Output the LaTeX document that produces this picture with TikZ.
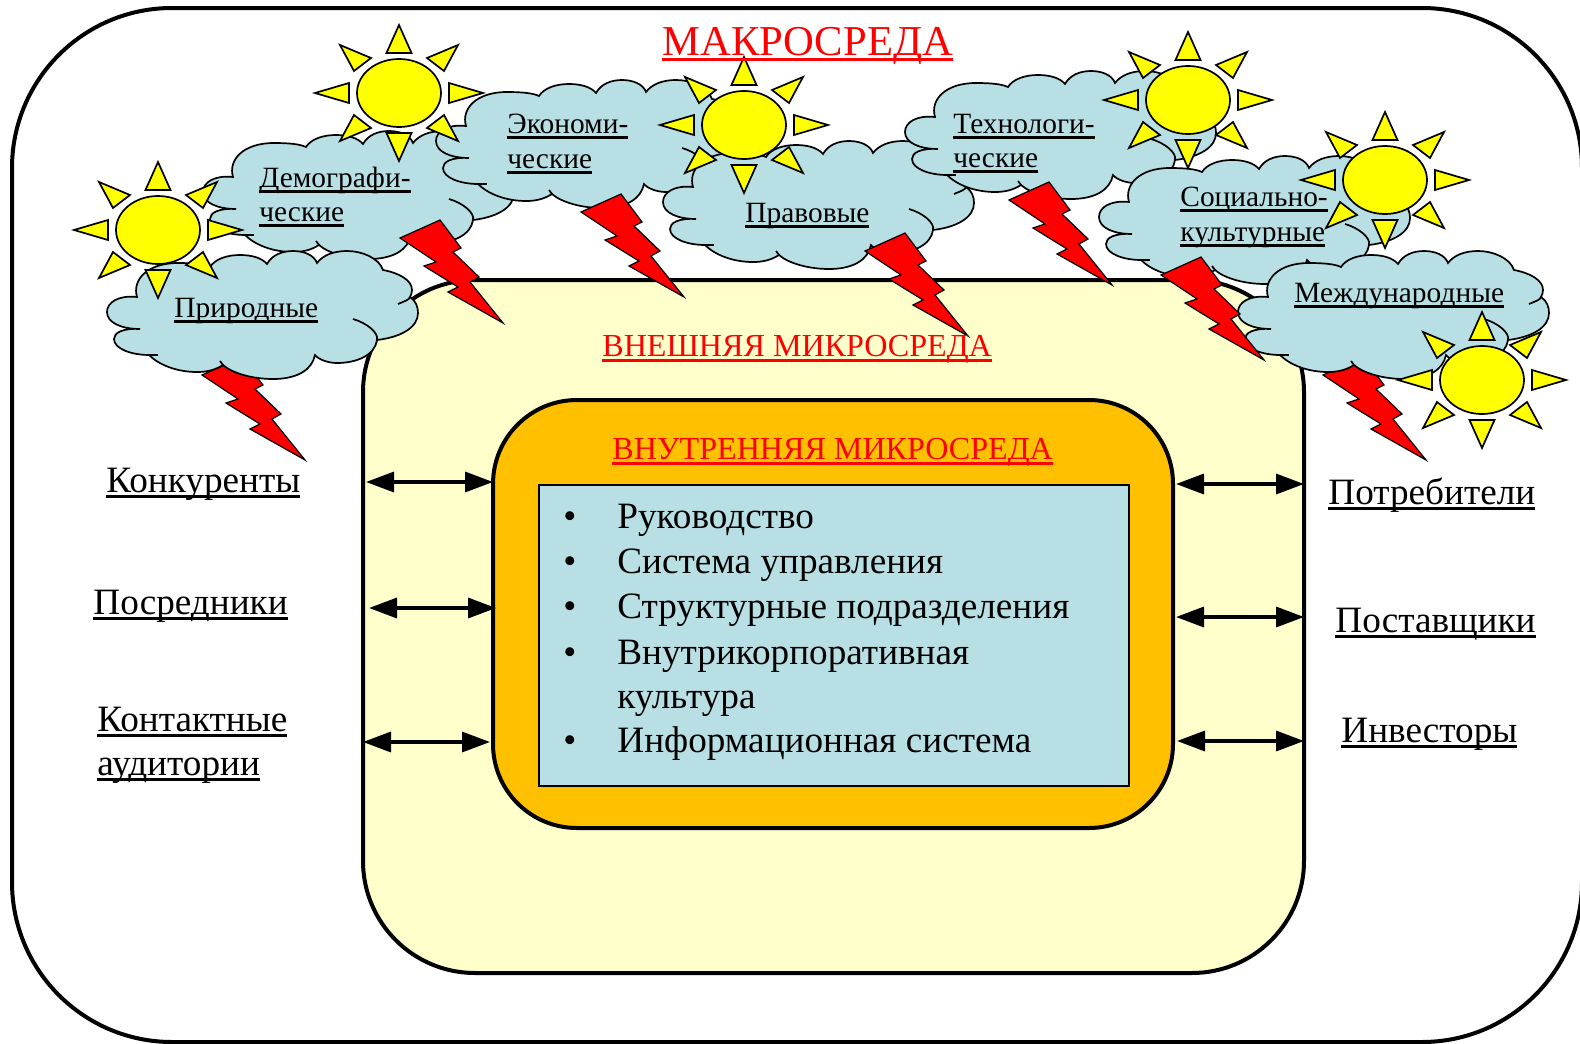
\documentclass[tikz,border=0pt]{standalone}
\usepackage{fontspec}
\usetikzlibrary{arrows.meta}
\setmainfont{Liberation Serif}
\newcommand{\uline}[1]{\setbox0\hbox{#1}\rlap{\rule[-3pt]{\wd0}{1.3pt}}\box0}
\definecolor{skyfill}{RGB}{184,223,228}
\definecolor{palefill}{RGB}{255,255,204}
\definecolor{orangefill}{RGB}{255,192,0}
\definecolor{sunfill}{RGB}{255,255,0}
\definecolor{boltfill}{RGB}{255,0,0}
\tikzset{
  frameline/.style={draw=black, line width=2pt},
  cloudline/.style={draw=black, line width=0.85pt},
  rayline/.style={draw=black, fill=sunfill, line width=0.85pt, line join=miter},
  boltline/.style={draw=black, fill=boltfill, line width=0.6pt, line join=miter},
  twoway/.style={line width=1.7pt, {Triangle[length=14pt,width=10pt]}-{Triangle[length=14pt,width=10pt]}},
  bigtext/.style={anchor=base west, inner sep=0pt, font=\fontsize{18.6}{20}\selectfont},
  smalltext/.style={anchor=base west, inner sep=0pt, font=\fontsize{14.7}{16}\selectfont},
  redtext/.style={anchor=base west, inner sep=0pt, boltfill, font=\fontsize{16.05}{18}\selectfont},
  pics/cloudpic/.style={code={
    \path[cloudline, fill=skyfill] (30,42)
      .. controls (25,25) and (40,8) .. (71,8)
      .. controls (85,8) and (97,9) .. (103,12)
      .. controls (108,4) and (120,0) .. (133,0)
      .. controls (145,0) and (155,3) .. (160,9)
      .. controls (165,0) and (175,-4) .. (186,-4)
      .. controls (197,-4) and (207,0) .. (210,8)
      .. controls (216,0) and (227,-4) .. (240,-4)
      .. controls (255,-4) and (272,3) .. (276,15)
      .. controls (292,18) and (305,25) .. (305,35)
      .. controls (305,38) and (304,40) .. (303,42)
      .. controls (309,46) and (311,52) .. (311,58)
      .. controls (311,72) and (295,82) .. (270,85)
      .. controls (268,100) and (250,108) .. (230,108)
      .. controls (222,108) and (212,105) .. (208,100)
      .. controls (205,115) and (190,124) .. (166,124)
      .. controls (145,124) and (125,118) .. (116,110)
      .. controls (108,115) and (100,117) .. (90,117)
      .. controls (70,117) and (52,110) .. (42,100)
      .. controls (25,100) and (7,94) .. (7,84)
      .. controls (7,78) and (15,73) .. (33,74)
      .. controls (15,74) and (0,68) .. (0,57)
      .. controls (0,47) and (12,40) .. (30,42) -- cycle;
    \draw[cloudline] (303,42) .. controls (302,45) and (298,46) .. (291,49);
    \draw[cloudline] (246,64) .. controls (260,68) and (272,78) .. (270,85);
    \draw[cloudline] (42,100) -- (51,100);
    \draw[cloudline] (116,110) -- (113,106);
  }},
  pics/boltpic/.style={code={
    \path[boltline] (0,18) -- (40,0) -- (61,28) -- (53,32) -- (79,57) -- (70,62)
      -- (103,103) -- (48,72) -- (58,67) -- (24,46) -- (36,42) -- cycle;
  }},
  pics/sunpic/.style={code={
    \path[rayline] (0,0) ellipse (42 and 34);
    \foreach \sx/\sy in {1/1,1/-1,-1/1,-1/-1} {
      \path[rayline, xscale=\sx, yscale=\sy] (28,-35) -- (59,-48) -- (45,-22) -- cycle;
    }
    \foreach \sy in {1,-1} {
      \path[rayline, yscale=\sy] (-12.5,-40) -- (0,-68) -- (12.5,-40) -- cycle;
    }
    \foreach \sx in {1,-1} {
      \path[rayline, xscale=\sx] (50,-10) -- (84,0) -- (50,10) -- cycle;
    }
  }},
}
\begin{document}
\begin{tikzpicture}[x=0.5pt, y=-0.5pt]
  \useasboundingbox (0,0) rectangle (1580,1044);

  % Rounded frames
  \draw[frameline, rounded corners=80pt] (12,8) rectangle (1582,1042);
  \draw[frameline, fill=palefill, rounded corners=56pt] (363,280) rectangle (1304,973);
  \draw[frameline, fill=orangefill, rounded corners=42pt] (493,400) rectangle (1173,828);
  \draw[fill=skyfill, line width=0.9pt] (539,485) rectangle (1129,786);

  % Bolts under the clouds
  \pic at (202,357) {boltpic};
  \pic at (1323,357) {boltpic};

  % Clouds
  \pic at (203,135) {cloudpic};
  \pic at (107,255) {cloudpic};
  \pic at (436,84) {cloudpic};
  \pic at (663,145) {cloudpic};
  \pic at (905,75) {cloudpic};
  \pic at (1099,160) {cloudpic};
  \pic at (1238,255) {cloudpic};

  % Bolts over the clouds
  \pic at (400,220) {boltpic};
  \pic at (581,194) {boltpic};
  \pic at (865,233) {boltpic};
  \pic at (1009,182) {boltpic};
  \pic at (1161,257) {boltpic};

  % Suns
  \pic at (158,230) {sunpic};
  \pic at (399,93) {sunpic};
  \pic at (744,125) {sunpic};
  \pic at (1188,100) {sunpic};
  \pic at (1385,180) {sunpic};
  \pic at (1482,380) {sunpic};

  % Headings
  \node[redtext, font=\fontsize{21.3}{24}\selectfont] (makro) at (662,55) {\uline{МАКРОСРЕДА}};
  \node[redtext] (vnesh) at (602,356) {\uline{ВНЕШНЯЯ МИКРОСРЕДА}};
  \node[redtext] (vnutr) at (612,459) {\uline{ВНУТРЕННЯЯ МИКРОСРЕДА}};

  % Cloud labels
  \node[smalltext] (prirod) at (174,317) {\uline{Природные}};
  \node[smalltext] (demo) at (259,187) {\uline{Демографи-}};
  \node[smalltext] (demob) at (259,221) {\uline{ческие}};
  \node[smalltext] (econ) at (507,133) {\uline{Экономи-}};
  \node[smalltext] (econb) at (507,168) {\uline{ческие}};
  \node[smalltext] (pravo) at (745,222) {\uline{Правовые}};
  \node[smalltext] (tech) at (953,133) {\uline{Технологи-}};
  \node[smalltext] (techb) at (953,167) {\uline{ческие}};
  \node[smalltext] (socio) at (1180,206) {\uline{Социально-}};
  \node[smalltext] (sociob) at (1180,241) {\uline{культурные}};
  \node[smalltext] (mezhd) at (1294,302) {\uline{Международные}};

  % Outside parties
  \node[bigtext] (konk) at (106,492) {\uline{Конкуренты}};
  \node[bigtext] (posr) at (93,614) {\uline{Посредники}};
  \node[bigtext] (kont) at (97,731) {\uline{Контактные}};
  \node[bigtext] (kontb) at (97,775) {\uline{аудитории}};
  \node[bigtext] (potr) at (1328,504) {\uline{Потребители}};
  \node[bigtext] (post) at (1335,632) {\uline{Поставщики}};
  \node[bigtext] (inv) at (1341,742) {\uline{Инвесторы}};

  % Inner list
  \foreach \nm/\yy/\txt in {a/528/Руководство, b/573/Система управления,
      c/618/Структурные подразделения, d/664/Внутрикорпоративная, f/752/Информационная система} {
    \node[bigtext] (item\nm) at (617,\yy) {\txt};
    \node[bigtext] (dot\nm) at (563,\yy) {•};
  }
  \node[bigtext] (itemd2) at (617,708) {культура};

  % Two-way arrows
  \coordinate (konkA) at (366,482);  \coordinate (konkB) at (493,482);
  \coordinate (posrA) at (369,608);  \coordinate (posrB) at (496,608);
  \coordinate (kontA) at (363,742);  \coordinate (kontB) at (490,742);
  \coordinate (potrA) at (1176,484); \coordinate (potrB) at (1304,484);
  \coordinate (postA) at (1176,617); \coordinate (postB) at (1304,617);
  \coordinate (invA)  at (1177,741); \coordinate (invB)  at (1304,741);
  \foreach \nm in {konk,posr,kont,potr,post,inv} {
    \draw[twoway] (\nm A) -- (\nm B);
  }
\end{tikzpicture}
\end{document}
